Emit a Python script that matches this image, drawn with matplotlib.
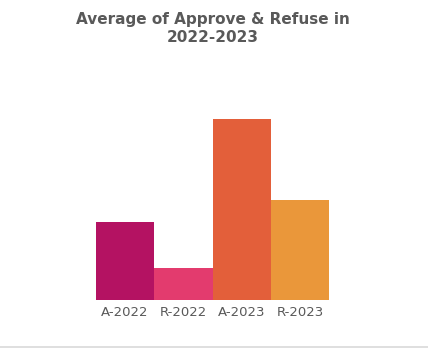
import matplotlib.pyplot as plt
from matplotlib.lines import Line2D

labels = ['A-2022', 'R-2022', 'A-2023', 'R-2023']
values = [78, 32, 181, 100]
colors = ['#B41262', '#E33B6E', '#E35F3A', '#EA973A']

W, H = 428, 348
fig = plt.figure(figsize=(W / 100, H / 100), dpi=100)
ax = fig.add_axes([96 / W, (H - 300) / H, (329 - 96) / W, (300 - 119) / H])

ax.bar(range(len(values)), values, width=1.0, color=colors)
ax.set_xlim(-0.5, len(values) - 0.5)
ax.set_ylim(0, max(values))
ax.set_xticks(range(len(labels)))
ax.set_xticklabels(labels, fontsize=9.5, color='#595959')
ax.tick_params(axis='x', length=0, pad=4)
ax.set_yticks([])
for s in ax.spines.values():
    s.set_visible(False)

fig.text(213 / W, 1 - 28.5 / H, 'Average of Approve & Refuse in\n2022-2023',
         ha='center', va='center', fontsize=11, fontweight='bold',
         color='#595959', linespacing=1.3)

fig.add_artist(Line2D([0, 1], [1.5 / H, 1.5 / H], color='#D9D9D9', lw=1.2))

plt.savefig('out.png', dpi=100)
